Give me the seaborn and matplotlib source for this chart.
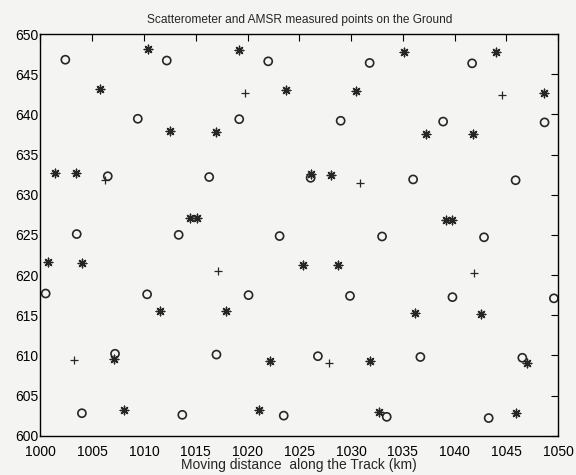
import pandas as pd
import matplotlib
matplotlib.use("Agg")
import matplotlib.pyplot as plt
import seaborn as sns

# AMSR footprint centres (circles)
amsr_x = [1002.4, 1012.2, 1022.0, 1031.8, 1041.7,
          1009.4, 1019.2, 1029.0, 1038.9, 1048.7,
          1006.5, 1016.3, 1026.1, 1036.0, 1045.9,
          1003.5, 1013.35, 1023.1, 1033.0, 1042.85,
          1000.5, 1010.3, 1020.1, 1029.9, 1039.8, 1049.6,
          1007.2, 1017.0, 1026.8, 1036.7, 1046.55,
          1004.0, 1013.7, 1023.5, 1033.45, 1043.3]
amsr_y = [646.8, 646.7, 646.6, 646.4, 646.35,
          639.45, 639.4, 639.2, 639.1, 639.0,
          632.3, 632.2, 632.1, 631.9, 631.8,
          625.1, 625.0, 624.85, 624.8, 624.7,
          617.7, 617.6, 617.5, 617.4, 617.25, 617.1,
          610.2, 610.1, 609.9, 609.8, 609.7,
          602.8, 602.6, 602.5, 602.35, 602.2]

# scatterometer points (asterisks)
scat_x = [1010.4, 1019.15, 1035.1, 1044.0,
          1005.75, 1023.75, 1030.5, 1048.6,
          1012.5, 1017.0, 1037.25, 1041.8,
          1001.4, 1003.45, 1026.1, 1028.1,
          1014.4, 1015.1, 1039.15, 1039.8,
          1000.75, 1004.05, 1025.35, 1028.75,
          1011.5, 1017.9, 1036.15, 1042.6,
          1007.1, 1022.2, 1031.8, 1047.0,
          1008.1, 1021.15, 1032.7, 1045.95]
scat_y = [648.1, 648.0, 647.8, 647.7,
          643.15, 643.0, 642.9, 642.65,
          637.9, 637.8, 637.6, 637.55,
          632.75, 632.75, 632.6, 632.45,
          627.1, 627.1, 626.8, 626.8,
          621.6, 621.5, 621.3, 621.3,
          615.55, 615.5, 615.3, 615.2,
          609.6, 609.3, 609.25, 609.1,
          603.25, 603.2, 603.0, 602.8]

# other ground points (plus signs)
plus_x = [1019.75, 1044.55, 1006.2, 1030.9, 1017.15, 1041.9, 1003.25, 1027.9]
plus_y = [642.7, 642.35, 631.8, 631.5, 620.5, 620.25, 609.4, 609.0]

amsr = pd.DataFrame({"x": amsr_x, "y": amsr_y})
scat = pd.DataFrame({"x": scat_x, "y": scat_y})
plus = pd.DataFrame({"x": plus_x, "y": plus_y})

sns.set_style("white")
plt.rcParams['font.family'] = ['Liberation Sans', 'DejaVu Sans']

ink = "#262626"
paper = "#f4f4f2"
fig = plt.figure(figsize=(5.76, 4.75), dpi=100, facecolor=paper)
ax = fig.add_axes([0.0703, 0.0827, 0.8985, 0.8457])
ax.set_facecolor(paper)

sns.scatterplot(data=amsr, x="x", y="y", marker="o", s=34, facecolors="none",
                edgecolor=ink, linewidth=1.2, ax=ax)
sns.scatterplot(data=scat, x="x", y="y", marker=(8, 2, 0), s=38, color=ink,
                linewidth=1.0, ax=ax)
sns.scatterplot(data=plus, x="x", y="y", marker="+", s=36, color=ink,
                linewidth=0.9, ax=ax)

ax.set_xlim(1000, 1050)
ax.set_ylim(600, 650)
ax.set_xticks(range(1000, 1051, 5))
ax.set_yticks(range(600, 651, 5))
ax.tick_params(direction="in", length=5, width=0.8, top=True, right=True,
               labelsize=10, colors="black")
ax.tick_params(axis="x", pad=7)
ax.tick_params(axis="y", pad=1.5)
for sp in ax.spines.values():
    sp.set_visible(True)
    sp.set_color("black")
    sp.set_linewidth(1.0)

ax.set_title("Scatterometer and AMSR measured points on the Ground", fontsize=8.6, pad=8)
ax.set_xlabel("Moving distance  along the Track (km)", fontsize=10, labelpad=-1)
ax.set_ylabel("")

fig.savefig("out.png", dpi=100, facecolor=fig.get_facecolor())
